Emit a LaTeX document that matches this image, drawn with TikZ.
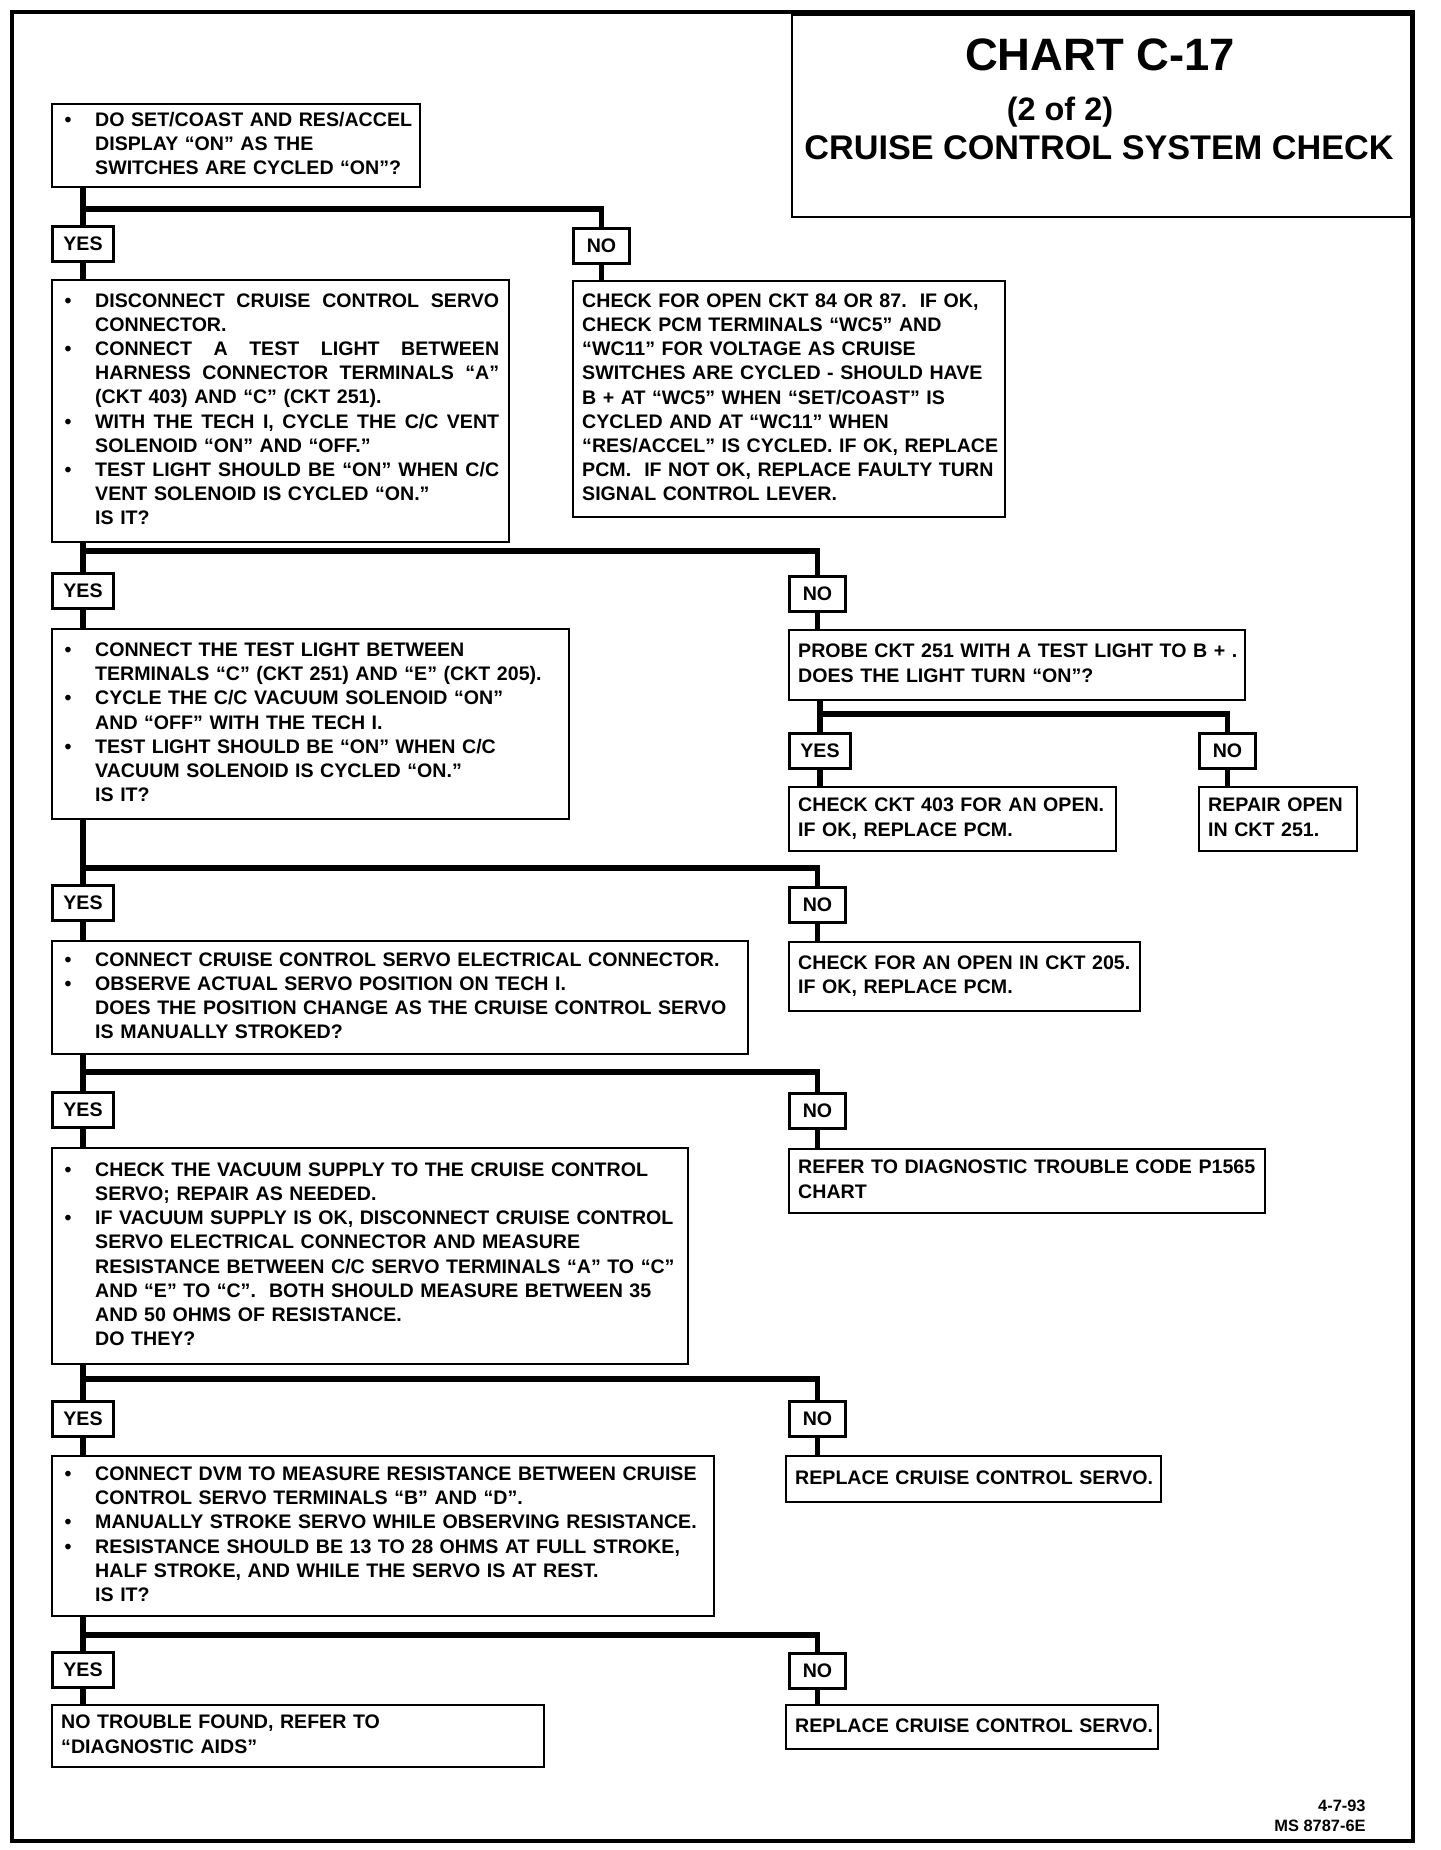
\documentclass[tikz,border=0pt]{standalone}
\usepackage{fontspec}
\setmainfont{Liberation Sans}
\usetikzlibrary{calc}
\newcommand{\bodyfont}{\fontsize{9.8}{12.05}\selectfont\bfseries}
\newcommand{\bul}{\hspace*{1.75pt}\textbullet}
\newcommand{\spread}[1]{\makebox[202pt][s]{#1}}
\newcommand{\boxlines}[1]{\begin{tabular}{@{}l@{}}#1\end{tabular}}
\newcommand{\bulletlines}[1]{\begin{tabular}{@{}p{17pt}@{}l@{}}#1\end{tabular}}
\tikzset{
    stepbox/.style={draw, line width=1.2pt, anchor=north west, inner xsep=4.5pt, inner ysep=0pt, align=left, font=\bodyfont},
    answer/.style={draw, line width=1.5pt, anchor=north west, inner sep=0pt, minimum height=17.5pt, font=\bodyfont},
    yesbox/.style={answer, minimum width=30.5pt},
    nobox/.style={answer, minimum width=28pt},
    wire/.style={line width=2.8pt},
}

\begin{document}
\begin{tikzpicture}[x=0.5pt, y=-0.5pt]
    \useasboundingbox (0,0) rectangle (1440,1850);
    % Cornice e titolo
    \draw[line width=2.3pt] (12,12) rectangle (1413,1841);
    \node[draw, line width=1.2pt, anchor=north west, inner sep=0pt, minimum width=309.5pt, minimum height=101pt] (titolo) at (791,14) {};
    \node[font=\fontsize{22.7}{27}\selectfont\bfseries, inner sep=0pt] (chart) at (1100,55) {CHART C-17};
    \node[font=\fontsize{16.2}{19}\selectfont\bfseries, inner sep=0pt] (parte) at (1060,112) {(2 of 2)};
    \node[font=\fontsize{17.1}{20}\selectfont\bfseries, inner sep=0pt] (sistema) at (1099,148) {CRUISE CONTROL SYSTEM CHECK};

    % Livelli delle barre
    \coordinate (bar1) at (0,209);
    \coordinate (bar2) at (0,551);
    \coordinate (barp) at (0,714);
    \coordinate (bar3) at (0,868);
    \coordinate (bar4) at (0,1072);
    \coordinate (bar5) at (0,1379);
    \coordinate (bar6) at (0,1635);

    % Colonna sinistra (domande)
    \node[stepbox, text width=175pt, minimum height=41.5pt] (q1) at (51,103) {\bulletlines{
        \bul & DO SET/COAST AND RES/ACCEL\\
            & DISPLAY “ON” AS THE\\
            & SWITCHES ARE CYCLED “ON”?}};
    \node[stepbox, text width=219.5pt, minimum height=131pt] (q2) at (51,279) {\bulletlines{
        \bul & \spread{DISCONNECT\hfill CRUISE\hfill CONTROL\hfill SERVO}\\
            & CONNECTOR.\\
        \bul & \spread{CONNECT\hfill A\hfill TEST\hfill LIGHT\hfill BETWEEN}\\
            & \spread{HARNESS\hfill CONNECTOR\hfill TERMINALS\hfill “A”}\\
            & (CKT 403) AND “C” (CKT 251).\\
        \bul & \spread{WITH\hfill THE\hfill TECH\hfill I,\hfill CYCLE\hfill THE\hfill C/C\hfill VENT}\\
            & SOLENOID “ON” AND “OFF.”\\
        \bul & \spread{TEST\hfill LIGHT\hfill SHOULD\hfill BE\hfill “ON”\hfill WHEN\hfill C/C}\\
            & VENT SOLENOID IS CYCLED “ON.”\\
            & IS IT?}};
    \node[stepbox, text width=249.5pt, minimum height=95pt] (q3) at (51,628) {\bulletlines{
        \bul & CONNECT THE TEST LIGHT BETWEEN\\
            & TERMINALS “C” (CKT 251) AND “E” (CKT 205).\\
        \bul & CYCLE THE C/C VACUUM SOLENOID “ON”\\
            & AND “OFF” WITH THE TECH I.\\
        \bul & TEST LIGHT SHOULD BE “ON” WHEN C/C\\
            & VACUUM SOLENOID IS CYCLED “ON.”\\
            & IS IT?}};
    \node[stepbox, text width=339pt, minimum height=56.5pt] (q4) at (51,940) {\bulletlines{
        \bul & CONNECT CRUISE CONTROL SERVO ELECTRICAL CONNECTOR.\\
        \bul & OBSERVE ACTUAL SERVO POSITION ON TECH I.\\
            & DOES THE POSITION CHANGE AS THE CRUISE CONTROL SERVO\\
            & IS MANUALLY STROKED?}};
    \node[stepbox, text width=309pt, minimum height=108pt] (q5) at (51,1147) {\bulletlines{
        \bul & CHECK THE VACUUM SUPPLY TO THE CRUISE CONTROL\\
            & SERVO; REPAIR AS NEEDED.\\
        \bul & IF VACUUM SUPPLY IS OK, DISCONNECT CRUISE CONTROL\\
            & SERVO ELECTRICAL CONNECTOR AND MEASURE\\
            & RESISTANCE BETWEEN C/C SERVO TERMINALS “A” TO “C”\\
            & AND “E” TO “C”.\ \ BOTH SHOULD MEASURE BETWEEN 35\\
            & AND 50 OHMS OF RESISTANCE.\\
            & DO THEY?}};
    \node[stepbox, text width=322pt, minimum height=80pt] (q6) at (51,1455) {\bulletlines{
        \bul & CONNECT DVM TO MEASURE RESISTANCE BETWEEN CRUISE\\
            & CONTROL SERVO TERMINALS “B” AND “D”.\\
        \bul & MANUALLY STROKE SERVO WHILE OBSERVING RESISTANCE.\\
        \bul & RESISTANCE SHOULD BE 13 TO 28 OHMS AT FULL STROKE,\\
            & HALF STROKE, AND WHILE THE SERVO IS AT REST.\\
            & IS IT?}};
    \node[stepbox, text width=237pt, minimum height=31pt] (nofault) at (51,1704) {\boxlines{
        NO TROUBLE FOUND, REFER TO\\
        “DIAGNOSTIC AIDS”}};

    % Colonna destra (esiti NO)
    \node[stepbox, text width=207pt, minimum height=118pt] (n1) at (572,280) {\boxlines{
        CHECK FOR OPEN CKT 84 OR 87.\ \ IF OK,\\
        CHECK PCM TERMINALS “WC5” AND\\
        “WC11” FOR VOLTAGE AS CRUISE\\
        SWITCHES ARE CYCLED - SHOULD HAVE\\
        B + AT “WC5” WHEN “SET/COAST” IS\\
        CYCLED AND AT “WC11” WHEN\\
        “RES/ACCEL” IS CYCLED. IF OK, REPLACE\\
        PCM.\ \ IF NOT OK, REPLACE FAULTY TURN\\
        SIGNAL CONTROL LEVER.}};
    \node[stepbox, text width=219pt, minimum height=35pt] (p1) at (788,629) {\boxlines{
        PROBE CKT 251 WITH A TEST LIGHT TO B + .\\
        DOES THE LIGHT TURN “ON”?}};
    \node[stepbox, text width=154.5pt, minimum height=32pt] (ok403) at (788,786) {\boxlines{
        CHECK CKT 403 FOR AN OPEN.\\
        IF OK, REPLACE PCM.}};
    \node[stepbox, text width=70pt, minimum height=32pt] (rep251) at (1198,786) {\boxlines{
        REPAIR OPEN\\
        IN CKT 251.}};
    \node[stepbox, text width=166.5pt, minimum height=34.5pt] (n3) at (788,941) {\boxlines{
        CHECK FOR AN OPEN IN CKT 205.\\
        IF OK, REPLACE PCM.}};
    \node[stepbox, text width=229pt, minimum height=32pt] (n4) at (788,1148) {\boxlines{
        REFER TO DIAGNOSTIC TROUBLE CODE P1565\\
        CHART}};
    \node[stepbox, text width=178.5pt, minimum height=23pt] (n5) at (785,1455) {\boxlines{
        REPLACE CRUISE CONTROL SERVO.}};
    \node[stepbox, text width=177pt, minimum height=22pt] (n6) at (785,1704) {\boxlines{
        REPLACE CRUISE CONTROL SERVO.}};

    % Caselle YES / NO
    \node[yesbox] (yes1) at (51,225) {YES};
    \node[nobox] (no1) at (572,227) {NO};
    \node[yesbox] (yes2) at (51,572) {YES};
    \node[nobox] (no2) at (788,575) {NO};
    \node[yesbox] (yesp) at (788,732) {YES};
    \node[nobox] (nop) at (1198,732) {NO};
    \node[yesbox] (yes3) at (51,884) {YES};
    \node[nobox] (no3) at (788,886) {NO};
    \node[yesbox] (yes4) at (51,1091) {YES};
    \node[nobox] (no4) at (788,1092) {NO};
    \node[yesbox] (yes5) at (51,1400) {YES};
    \node[nobox] (no5) at (788,1400) {NO};
    \node[yesbox] (yes6) at (51,1651) {YES};
    \node[nobox] (no6) at (788,1652) {NO};

    % Collegamenti
    \foreach \q/\ys/\ns/\qy/\qn/\b in {q1/yes1/no1/q2/n1/bar1, q2/yes2/no2/q3/p1/bar2, p1/yesp/nop/ok403/rep251/barp, q3/yes3/no3/q4/n3/bar3, q4/yes4/no4/q5/n4/bar4, q5/yes5/no5/q6/n5/bar5, q6/yes6/no6/nofault/n6/bar6} {
        \draw[wire] (\q.south -| \ys.north) -- (\ys.north);
        \draw[wire] (\ys.north |- \b) -| (\ns.north);
        \draw[wire] (\ys.south) -- (\ys.south |- \qy.north);
        \draw[wire] (\ns.south) -- (\ns.south |- \qn.north);
    }

    % Sigla
    \node[align=right, anchor=north east, inner sep=0pt, font=\fontsize{8.2}{10}\selectfont\bfseries] (sigla) at (1366,1800) {4-7-93\\MS 8787-6E};
\end{tikzpicture}
\end{document}
